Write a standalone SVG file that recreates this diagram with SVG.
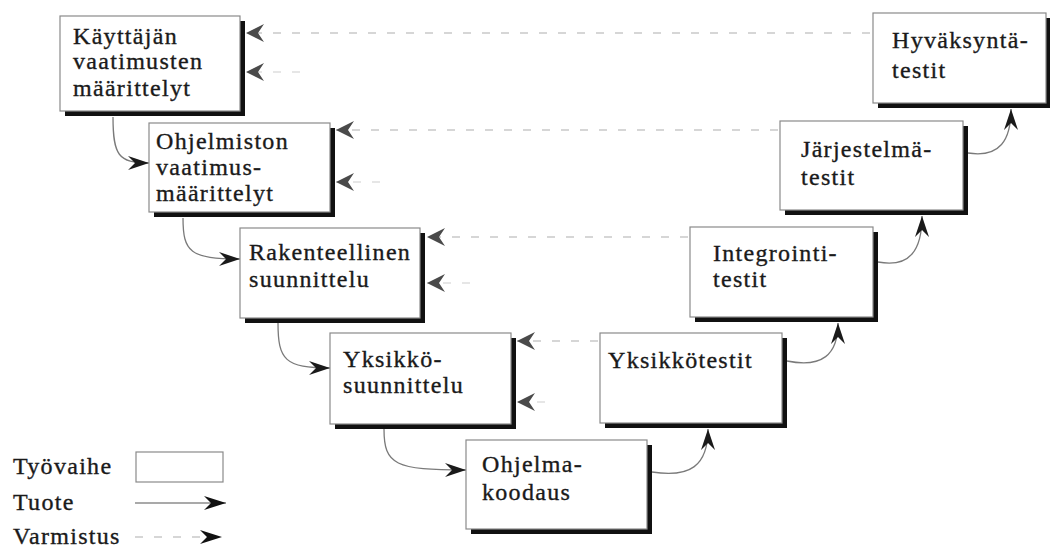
<svg xmlns="http://www.w3.org/2000/svg" width="1050" height="552" viewBox="0 0 1050 552">
  <style>
    .lbl { font-family: "Liberation Serif", "Times New Roman", serif; font-size: 24px; letter-spacing: 1.3px; fill: #1a1a1a; stroke: #1a1a1a; stroke-width: 0.35; }
    .box { fill: #ffffff; stroke: #8a8a8a; stroke-width: 1.2; }
    .shadow { fill: #111111; }
    .prod { fill: none; stroke: #7a7a7a; stroke-width: 1.3; marker-end: url(#prodHead); }
    .verif { fill: none; stroke: #d6d6d6; stroke-width: 2; stroke-dasharray: 8 11; marker-end: url(#verifHead); }
    .verif-short { fill: none; stroke: #e6e6e6; stroke-width: 2; stroke-dasharray: 8 11; marker-end: url(#verifHead); }
  </style>
  <defs>
    <!-- notched arrowhead for product flow -->
    <marker id="prodHead" viewBox="-23 -8 24 16" refX="0" refY="0" markerWidth="24" markerHeight="16" orient="auto" markerUnits="userSpaceOnUse">
      <path d="M0,0 L-21,-7 L-14,0 L-21,7 Z" fill="#1a1a1a"/>
    </marker>
    <!-- grey notched arrowhead for verification links -->
    <marker id="verifHead" viewBox="-20 -10 22 20" refX="0" refY="0" markerWidth="22" markerHeight="20" orient="auto" markerUnits="userSpaceOnUse">
      <path d="M0,0 L-18,-9 L-12,0 L-18,9 Z" fill="#4a4a4a"/>
    </marker>
    <marker id="legendHead" viewBox="-23 -8 24 16" refX="0" refY="0" markerWidth="24" markerHeight="16" orient="auto" markerUnits="userSpaceOnUse">
      <path d="M0,0 L-22,-7 L-15,0 L-22,7 Z" fill="#111111"/>
    </marker>
  </defs>

  <rect width="1050" height="552" fill="#ffffff"/>

  <!-- verification and product connectors -->
  <g id="connectors">
    <path class="verif" d="M870,33 L246,33"/>
    <path class="verif-short" d="M300,72 L246,72"/>
    <path class="verif" d="M778,130 L336,130"/>
    <path class="verif-short" d="M380,182 L336,182"/>
    <path class="verif" d="M688,237 L427,237"/>
    <path class="verif-short" d="M470,283 L427,283"/>
    <path class="verif" d="M598,341 L517,341"/>
    <path class="verif-short" d="M545,402 L517,402"/>

    <path class="prod" d="M113,117 C113,155 118,163 149,163"/>
    <path class="prod" d="M183,218 C183,252 190,259 240,259"/>
    <path class="prod" d="M278,323 C278,360 285,368 330,368"/>
    <path class="prod" d="M384,429 C384,465 395,470 466,470"/>
    <path class="prod" d="M652,472 C690,478 708,466 708,429"/>
    <path class="prod" d="M787,361 C822,368 838,355 838,323"/>
    <path class="prod" d="M878,262 C910,268 922,250 922,216"/>
    <path class="prod" d="M968,153 C1000,158 1011,140 1011,109"/>
  </g>

  <g id="kayttajan-vaatimusten-maarittelyt">
    <rect class="shadow" x="65" y="21" width="180" height="95"/>
    <rect class="box" x="60" y="16" width="180" height="95"/>
    <text class="lbl" x="73" y="44">Käyttäjän</text>
    <text class="lbl" x="73" y="69">vaatimusten</text>
    <text class="lbl" x="73" y="96">määrittelyt</text>
  </g>

  <g id="ohjelmiston-vaatimusmaarittelyt">
    <rect class="shadow" x="154" y="128" width="181" height="89"/>
    <rect class="box" x="149" y="123" width="181" height="89"/>
    <text class="lbl" x="156" y="149">Ohjelmiston</text>
    <text class="lbl" x="156" y="175">vaatimus-</text>
    <text class="lbl" x="156" y="201">määrittelyt</text>
  </g>

  <g id="rakenteellinen-suunnittelu">
    <rect class="shadow" x="245" y="233" width="180" height="90"/>
    <rect class="box" x="240" y="228" width="180" height="90"/>
    <text class="lbl" x="249" y="260">Rakenteellinen</text>
    <text class="lbl" x="249" y="287">suunnittelu</text>
  </g>

  <g id="yksikkosuunnittelu">
    <rect class="shadow" x="335" y="338" width="181" height="91"/>
    <rect class="box" x="330" y="333" width="181" height="91"/>
    <text class="lbl" x="343" y="367">Yksikkö-</text>
    <text class="lbl" x="343" y="393">suunnittelu</text>
  </g>

  <g id="ohjelmakoodaus">
    <rect class="shadow" x="471" y="445" width="181" height="89"/>
    <rect class="box" x="466" y="440" width="181" height="89"/>
    <text class="lbl" x="482" y="472">Ohjelma-</text>
    <text class="lbl" x="482" y="500">koodaus</text>
  </g>

  <g id="yksikkotestit">
    <rect class="shadow" x="605" y="338" width="182" height="90"/>
    <rect class="box" x="600" y="333" width="182" height="90"/>
    <text class="lbl" x="608" y="368">Yksikkötestit</text>
  </g>

  <g id="integrointitestit">
    <rect class="shadow" x="695" y="232" width="183" height="90"/>
    <rect class="box" x="690" y="227" width="183" height="90"/>
    <text class="lbl" x="713" y="261">Integrointi-</text>
    <text class="lbl" x="713" y="287">testit</text>
  </g>

  <g id="jarjestelmatestit">
    <rect class="shadow" x="785" y="126" width="183" height="89"/>
    <rect class="box" x="780" y="121" width="183" height="89"/>
    <text class="lbl" x="801" y="157">Järjestelmä-</text>
    <text class="lbl" x="801" y="185">testit</text>
  </g>

  <g id="hyvaksyntatestit">
    <rect class="shadow" x="878" y="18" width="173" height="90"/>
    <rect class="box" x="873" y="13" width="173" height="90"/>
    <text class="lbl" x="892" y="48">Hyväksyntä-</text>
    <text class="lbl" x="892" y="78">testit</text>
  </g>

  <!-- legend -->
  <g id="legend">
    <text class="lbl" x="13" y="474">Työvaihe</text>
    <rect class="box" x="136" y="452" width="87" height="30"/>
    <text class="lbl" x="13" y="510">Tuote</text>
    <path d="M135,503 L226,503" fill="none" stroke="#555555" stroke-width="1.2" marker-end="url(#legendHead)"/>
    <text class="lbl" x="13" y="544">Varmistus</text>
    <path d="M135,537 L222,537" fill="none" stroke="#d6d6d6" stroke-width="2" stroke-dasharray="8 11" marker-end="url(#legendHead)"/>
  </g>
</svg>
